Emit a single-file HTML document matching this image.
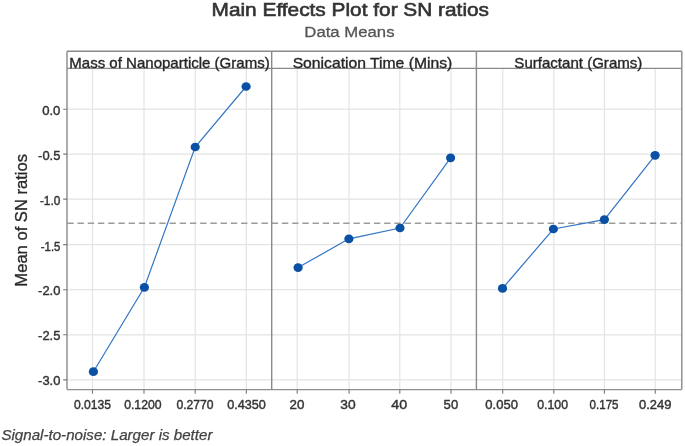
<!DOCTYPE html><html><head><meta charset="utf-8"><style>html,body{margin:0;padding:0;background:#fff}svg{display:block;will-change:transform}</style></head><body><svg width="685" height="446" viewBox="0 0 685 446">
<rect width="685" height="446" fill="#fff"/>
<path d="M92.5 68.4V389.6M144.0 68.4V389.6M195.2 68.4V389.6M246.35 68.4V389.6M67.0 109.2H271.7M67.0 154.1H271.7M67.0 199.1H271.7M67.0 244.6H271.7M67.0 289.7H271.7M67.0 334.8H271.7M67.0 379.9H271.7M297.2 68.4V389.6M349.1 68.4V389.6M399.8 68.4V389.6M451.0 68.4V389.6M271.7 109.2H476.4M271.7 154.1H476.4M271.7 199.1H476.4M271.7 244.6H476.4M271.7 289.7H476.4M271.7 334.8H476.4M271.7 379.9H476.4M502.7 68.4V389.6M553.8 68.4V389.6M604.4 68.4V389.6M655.25 68.4V389.6M476.4 109.2H681.8M476.4 154.1H681.8M476.4 199.1H681.8M476.4 244.6H681.8M476.4 289.7H681.8M476.4 334.8H681.8M476.4 379.9H681.8" stroke="#e4e4e4" stroke-width="1.2" fill="none"/>
<path d="M67.3 223.2H681.8" stroke="#9c9c9c" stroke-width="1.35" stroke-dasharray="6.4 3.82" fill="none"/>
<path d="M93.4 371.7 L144.4 287.3 L195.2 147.0 L246.1 86.5" stroke="#3276c4" stroke-width="1.2" fill="none"/>
<ellipse cx="93.4" cy="371.7" rx="4.6" ry="4.35" fill="#0a51a6"/>
<ellipse cx="144.4" cy="287.3" rx="4.6" ry="4.35" fill="#0a51a6"/>
<ellipse cx="195.2" cy="147.0" rx="4.6" ry="4.35" fill="#0a51a6"/>
<ellipse cx="246.1" cy="86.5" rx="4.6" ry="4.35" fill="#0a51a6"/>
<path d="M298.1 267.6 L348.9 238.8 L400.0 228.0 L450.6 157.8" stroke="#3276c4" stroke-width="1.2" fill="none"/>
<ellipse cx="298.1" cy="267.6" rx="4.6" ry="4.35" fill="#0a51a6"/>
<ellipse cx="348.9" cy="238.8" rx="4.6" ry="4.35" fill="#0a51a6"/>
<ellipse cx="400.0" cy="228.0" rx="4.6" ry="4.35" fill="#0a51a6"/>
<ellipse cx="450.6" cy="157.8" rx="4.6" ry="4.35" fill="#0a51a6"/>
<path d="M502.5 288.4 L553.4 229.0 L604.4 219.6 L655.1 155.3" stroke="#3276c4" stroke-width="1.2" fill="none"/>
<ellipse cx="502.5" cy="288.4" rx="4.6" ry="4.35" fill="#0a51a6"/>
<ellipse cx="553.4" cy="229.0" rx="4.6" ry="4.35" fill="#0a51a6"/>
<ellipse cx="604.4" cy="219.6" rx="4.6" ry="4.35" fill="#0a51a6"/>
<ellipse cx="655.1" cy="155.3" rx="4.6" ry="4.35" fill="#0a51a6"/>
<path d="M67.0 51.3H681.8M67.0 68.4H681.8M67.0 51.3V389.6M271.7 51.3V389.6M476.4 51.3V389.6M681.8 51.3V389.6" stroke="#8a8a8a" stroke-width="1.4" fill="none"/>
<path d="M67.0 389.6H681.8" stroke="#8f8f8f" stroke-width="1.2" fill="none"/>
<path d="M92.5 389.6V393.8M144.0 389.6V393.8M195.2 389.6V393.8M246.35 389.6V393.8M297.2 389.6V393.8M349.1 389.6V393.8M399.8 389.6V393.8M451.0 389.6V393.8M502.7 389.6V393.8M553.8 389.6V393.8M604.4 389.6V393.8M655.25 389.6V393.8M67.0 109.2H63.2M67.0 154.1H63.2M67.0 199.1H63.2M67.0 244.6H63.2M67.0 289.7H63.2M67.0 334.8H63.2M67.0 379.9H63.2" stroke="#7a7a7a" stroke-width="1.1" fill="none"/>
<text x="60.4" y="115.30" font-family="Liberation Sans, sans-serif" font-size="12" fill="#333" stroke="#333" stroke-width="0.4" text-anchor="end" textLength="18.19" lengthAdjust="spacingAndGlyphs">0.0</text>
<text x="60.4" y="160.10" font-family="Liberation Sans, sans-serif" font-size="12" fill="#333" stroke="#333" stroke-width="0.4" text-anchor="end" textLength="22.29" lengthAdjust="spacingAndGlyphs">-0.5</text>
<text x="60.4" y="204.70" font-family="Liberation Sans, sans-serif" font-size="12" fill="#333" stroke="#333" stroke-width="0.4" text-anchor="end" textLength="20.49" lengthAdjust="spacingAndGlyphs">-1.0</text>
<text x="60.4" y="250.90" font-family="Liberation Sans, sans-serif" font-size="12" fill="#333" stroke="#333" stroke-width="0.4" text-anchor="end" textLength="19.59" lengthAdjust="spacingAndGlyphs">-1.5</text>
<text x="60.4" y="295.30" font-family="Liberation Sans, sans-serif" font-size="12" fill="#333" stroke="#333" stroke-width="0.4" text-anchor="end" textLength="22.29" lengthAdjust="spacingAndGlyphs">-2.0</text>
<text x="60.4" y="339.90" font-family="Liberation Sans, sans-serif" font-size="12" fill="#333" stroke="#333" stroke-width="0.4" text-anchor="end" textLength="22.29" lengthAdjust="spacingAndGlyphs">-2.5</text>
<text x="60.4" y="384.60" font-family="Liberation Sans, sans-serif" font-size="12" fill="#333" stroke="#333" stroke-width="0.4" text-anchor="end" textLength="22.29" lengthAdjust="spacingAndGlyphs">-3.0</text>
<text x="92.45" y="409" font-family="Liberation Sans, sans-serif" font-size="12" fill="#333" stroke="#333" stroke-width="0.4" text-anchor="middle" textLength="37.00" lengthAdjust="spacingAndGlyphs">0.0135</text>
<text x="142.85" y="409" font-family="Liberation Sans, sans-serif" font-size="12" fill="#333" stroke="#333" stroke-width="0.4" text-anchor="middle" textLength="37.40" lengthAdjust="spacingAndGlyphs">0.1200</text>
<text x="195.0" y="409" font-family="Liberation Sans, sans-serif" font-size="12" fill="#333" stroke="#333" stroke-width="0.4" text-anchor="middle" textLength="37.10" lengthAdjust="spacingAndGlyphs">0.2770</text>
<text x="246.5" y="409" font-family="Liberation Sans, sans-serif" font-size="12" fill="#333" stroke="#333" stroke-width="0.4" text-anchor="middle" textLength="38.70" lengthAdjust="spacingAndGlyphs">0.4350</text>
<text x="297.05" y="409" font-family="Liberation Sans, sans-serif" font-size="12" fill="#333" stroke="#333" stroke-width="0.4" text-anchor="middle" textLength="14.86" lengthAdjust="spacingAndGlyphs">20</text>
<text x="348.0" y="409" font-family="Liberation Sans, sans-serif" font-size="12" fill="#333" stroke="#333" stroke-width="0.4" text-anchor="middle" textLength="15.36" lengthAdjust="spacingAndGlyphs">30</text>
<text x="399.25" y="409" font-family="Liberation Sans, sans-serif" font-size="12" fill="#333" stroke="#333" stroke-width="0.4" text-anchor="middle" textLength="15.86" lengthAdjust="spacingAndGlyphs">40</text>
<text x="450.9" y="409" font-family="Liberation Sans, sans-serif" font-size="12" fill="#333" stroke="#333" stroke-width="0.4" text-anchor="middle" textLength="14.56" lengthAdjust="spacingAndGlyphs">50</text>
<text x="501.6" y="409" font-family="Liberation Sans, sans-serif" font-size="12" fill="#333" stroke="#333" stroke-width="0.4" text-anchor="middle" textLength="32.63" lengthAdjust="spacingAndGlyphs">0.050</text>
<text x="552.65" y="409" font-family="Liberation Sans, sans-serif" font-size="12" fill="#333" stroke="#333" stroke-width="0.4" text-anchor="middle" textLength="30.73" lengthAdjust="spacingAndGlyphs">0.100</text>
<text x="604.05" y="409" font-family="Liberation Sans, sans-serif" font-size="12" fill="#333" stroke="#333" stroke-width="0.4" text-anchor="middle" textLength="28.93" lengthAdjust="spacingAndGlyphs">0.175</text>
<text x="655.15" y="409" font-family="Liberation Sans, sans-serif" font-size="12" fill="#333" stroke="#333" stroke-width="0.4" text-anchor="middle" textLength="32.33" lengthAdjust="spacingAndGlyphs">0.249</text>
<text x="169.50" y="68" font-family="Liberation Sans, sans-serif" font-size="15" fill="#262626" stroke="#262626" stroke-width="0.35" text-anchor="middle" textLength="200.4" lengthAdjust="spacingAndGlyphs">Mass of Nanoparticle (Grams)</text>
<text x="372.50" y="68" font-family="Liberation Sans, sans-serif" font-size="15" fill="#262626" stroke="#262626" stroke-width="0.35" text-anchor="middle" textLength="159.7" lengthAdjust="spacingAndGlyphs">Sonication Time (Mins)</text>
<text x="578.35" y="68" font-family="Liberation Sans, sans-serif" font-size="15" fill="#262626" stroke="#262626" stroke-width="0.35" text-anchor="middle" textLength="128.0" lengthAdjust="spacingAndGlyphs">Surfactant (Grams)</text>
<text x="350.3" y="15.9" font-family="Liberation Sans, sans-serif" font-size="18.2" fill="#333" stroke="#333" stroke-width="0.6" text-anchor="middle" textLength="277.5" lengthAdjust="spacingAndGlyphs">Main Effects Plot for SN ratios</text>
<text x="349.45" y="37.4" font-family="Liberation Sans, sans-serif" font-size="15.5" fill="#555" stroke="#555" stroke-width="0.3" text-anchor="middle" textLength="90.2" lengthAdjust="spacingAndGlyphs">Data Means</text>
<text transform="translate(26.7 220.3) rotate(-90)" font-family="Liberation Sans, sans-serif" font-size="16" fill="#2a2a2a" stroke="#2a2a2a" stroke-width="0.3" text-anchor="middle" textLength="132.7" lengthAdjust="spacingAndGlyphs">Mean of SN ratios</text>
<text x="1.4" y="439.8" font-family="Liberation Sans, sans-serif" font-size="14" font-style="italic" fill="#444" stroke="#444" stroke-width="0.25" textLength="211.1" lengthAdjust="spacingAndGlyphs">Signal-to-noise: Larger is better</text>
</svg></body></html>
